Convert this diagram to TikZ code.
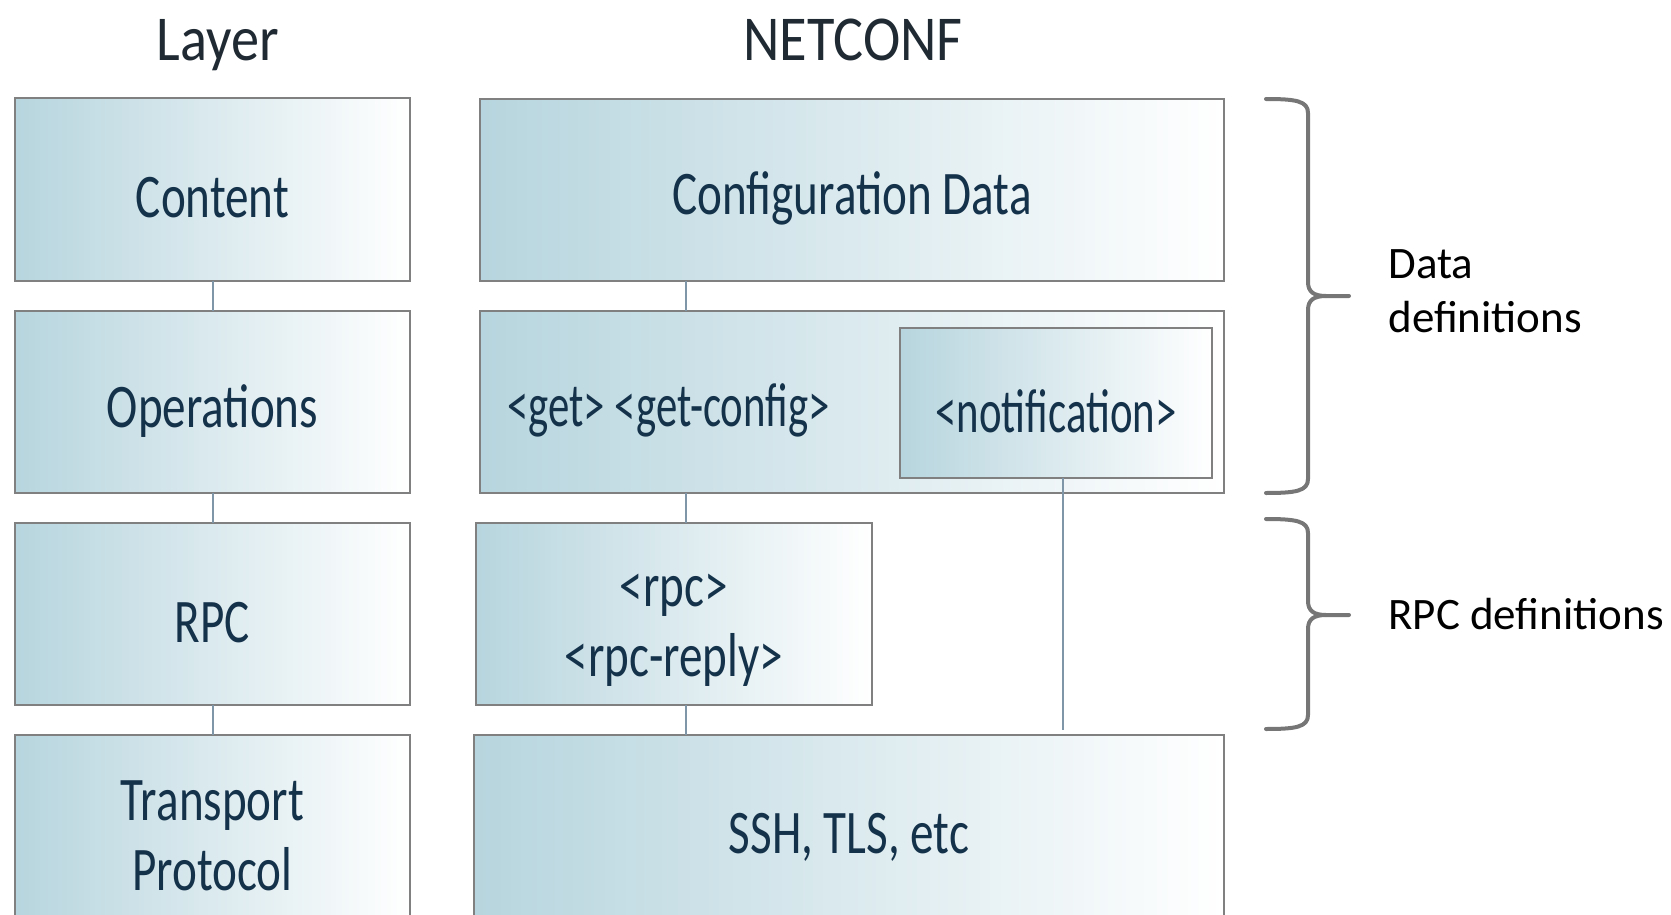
\documentclass[tikz,border=0pt]{standalone}
\usepackage{fontspec}
\setmainfont{Carlito}
\usetikzlibrary{fit,calc}

\definecolor{boxfill}{HTML}{B7D5DE}
\definecolor{boxline}{HTML}{808080}
\definecolor{boxtext}{HTML}{15324B}
\definecolor{linkcol}{HTML}{7F95A8}
\definecolor{bracecol}{HTML}{767676}
\definecolor{headcol}{HTML}{1F2A33}

% condensed lettering used inside the layer boxes and in the headings
\newcommand\narrowtxt[1]{\scalebox{0.76}[1]{#1}}
\newcommand\tagtxt[1]{\scalebox{0.69}[1]{#1}}
\newcommand\headtxt[1]{\scalebox{0.88}[1]{#1}}

\begin{document}
\begin{tikzpicture}[x=0.5pt,y=-0.5pt,
  layerbox/.style={draw=boxline, line width=1pt, left color=boxfill, right color=white,
                   inner sep=0pt, outer sep=0pt},
  boxlabel/.style={text=boxtext, font=\fontsize{31}{35}\selectfont, inner sep=0pt, align=center},
  heading/.style={text=headcol, font=\fontsize{32}{36}\selectfont, inner sep=0pt},
  sidelabel/.style={text=black, font=\fontsize{22.5}{27}\selectfont, inner sep=0pt, align=left, anchor=west},
  link/.style={draw=linkcol, line width=1pt},
  brace/.style={draw=bracecol, line width=2pt, line cap=round, line join=round}]

\useasboundingbox (0,0) rectangle (1671,915);

% headings
\node[heading] (h-layer) at (218,45) {\headtxt{Layer}};
\node[heading] (h-netconf) at (853,40) {\headtxt{NETCONF}};

% generic layer column
\node[layerbox, fit={(15,98) (410,281)}] (content) {};
\node[layerbox, fit={(15,311) (410,493)}] (ops) {};
\node[layerbox, fit={(15,523) (410,705)}] (rpc) {};
\node[layerbox, fit={(15,735) (410,922)}] (trans) {};

\node[boxlabel] (content-t) at ([yshift=-4.3pt]content.center) {\narrowtxt{Content}};
\node[boxlabel] (ops-t) at ([yshift=-4.3pt]ops.center) {\narrowtxt{Operations}};
\node[boxlabel] (rpc-t) at ([yshift=-4.3pt]rpc.center) {\narrowtxt{RPC}};
\node[boxlabel] (trans-t) at ([yshift=-3.5pt]trans.center) {\narrowtxt{Transport}\\\narrowtxt{Protocol}};

% NETCONF column
\node[layerbox, fit={(480,99) (1224,281)}] (cfg) {};
\node[layerbox, fit={(480,311) (1224,493)}] (get) {};
\node[layerbox, fit={(900,328) (1212,478)}] (notif) {};
\node[layerbox, fit={(476,523) (872,705)}] (rpcm) {};
\node[layerbox, fit={(474,735) (1224,922)}] (ssh) {};

\node[boxlabel] (cfg-t) at ([yshift=-4.3pt]cfg.center) {\narrowtxt{Configuration Data}};
\node[boxlabel, anchor=west] (get-t) at ([xshift=13.5pt,yshift=-4.3pt]get.west) {\tagtxt{<get> <get-config>}};
\node[boxlabel] (notif-t) at ([yshift=-4.3pt]notif.center) {\tagtxt{<notification>}};
\node[boxlabel] (rpcm-t) at ([yshift=-8.3pt]rpcm.center) {\narrowtxt{<rpc>}\\\narrowtxt{<rpc-reply>}};
\node[boxlabel] (ssh-t) at ([yshift=-4.3pt]ssh.center) {\narrowtxt{SSH, TLS, etc}};

% connectors between layers
\draw[link] (content.south) -- (ops.north);
\draw[link] (ops.south) -- (rpc.north);
\draw[link] (rpc.south) -- (trans.north);

\coordinate (rx) at (686,0);
\coordinate (nx) at (1063,0);
\draw[link] (cfg.south -| rx) -- (get.north -| rx);
\draw[link] (get.south -| rx) -- (rpcm.north -| rx);
\draw[link] (rpcm.south -| rx) -- (ssh.north -| rx);
\coordinate (nend) at ([yshift=2.5pt]ssh.north -| nx);
\draw[link] (notif.south -| nx) -- (nend);

% braces on the right
\draw[brace] (1266,99) .. controls (1296,99) and (1308,101) .. (1308,113) -- (1308,282)
  .. controls (1308,292) and (1314,296) .. (1326,296) -- (1349,296);
\draw[brace] (1326,296) .. controls (1314,296) and (1308,300) .. (1308,310) -- (1308,479)
  .. controls (1308,491) and (1296,493) .. (1266,493);

\draw[brace] (1266,519) .. controls (1296,519) and (1308,521) .. (1308,533) -- (1308,601)
  .. controls (1308,611) and (1314,615) .. (1326,615) -- (1349,615);
\draw[brace] (1326,615) .. controls (1314,615) and (1308,619) .. (1308,629) -- (1308,715)
  .. controls (1308,727) and (1296,729) .. (1266,729);

\node[sidelabel] (data-l) at (1388,291) {Data\\definitions};
\node[sidelabel] (rpc-l) at (1388,614) {RPC definitions};

\end{tikzpicture}
\end{document}
